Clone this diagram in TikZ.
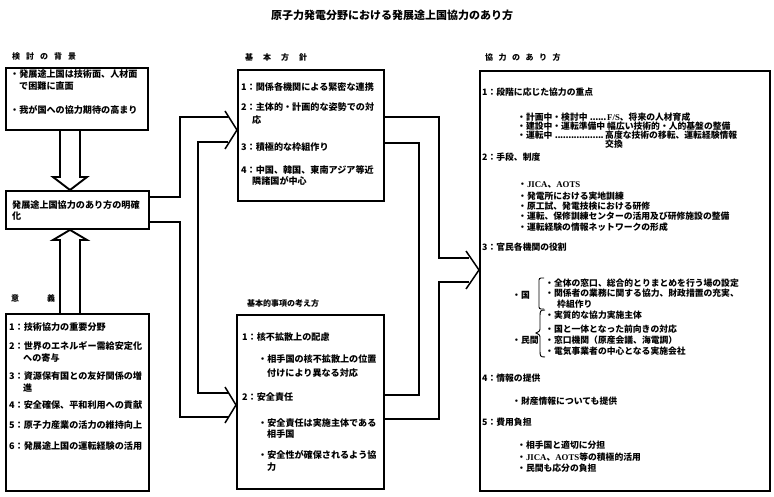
\documentclass[tikz,border=0pt]{standalone}
\usepackage{fontspec}
\setmainfont{Noto Sans CJK JP}
\newfontfamily\latinfont{Liberation Serif}
\newcommand{\jl}[1]{{\latinfont\bfseries #1}}
\newcommand{\ldr}{\leaders\hbox to 2.7pt{\hss.\hss}\hfill}
\tikzset{
  box/.style={draw, line width=1.9pt, anchor=north west, inner sep=0pt},
  pipe/.style={line width=1.9pt, line join=miter},
  chev/.style={line width=1.5pt, line join=miter},
  tx/.style={anchor=west, inner sep=0pt, font=\fontsize{9.1}{11}\selectfont\bfseries},
  tr/.style={anchor=west, inner sep=0pt, font=\fontsize{8.8}{10}\selectfont\bfseries},
  lbl/.style={anchor=west, inner sep=0pt, font=\fontsize{8}{10}\selectfont\bfseries},
  brk/.style={line width=0.9pt}
}
\begin{document}
\begin{tikzpicture}[x=1pt,y=-1pt]
\useasboundingbox (0,0) rectangle (774,497);
% title
\node[inner sep=0pt, font=\fontsize{11}{13}\selectfont\bfseries] (title) at (392,15) {原子力発電分野における発展途上国協力のあり方};
% labels
\node[lbl] (L1) at (12,56) {検\hspace{6pt}討\hspace{6pt}の\hspace{6pt}背\hspace{6pt}景};
\node[lbl] (L2) at (245,57) {基\hspace{10pt}本\hspace{10pt}方\hspace{10pt}針};
\node[lbl] (L3) at (485,57) {協\hspace{5.5pt}力\hspace{5.5pt}の\hspace{5.5pt}あ\hspace{5.5pt}り\hspace{5.5pt}方};
\node[lbl] (L4) at (11,298) {意};
\node[lbl] (L5) at (47,298) {義};
\node[lbl] (L6) at (247,303) {基本的事項の考え方};
% boxes
\node[box, minimum width=142pt, minimum height=62pt] (B1) at (5,67) {};
\node[box, minimum width=143pt, minimum height=38pt] (B2) at (5,190) {};
\node[box, minimum width=143pt, minimum height=177pt] (B3) at (5,313) {};
\node[box, minimum width=146pt, minimum height=131pt] (C1) at (237,69) {};
\node[box, minimum width=147pt, minimum height=174pt] (C2) at (236,314) {};
\node[box, minimum width=290pt, minimum height=420pt] (R) at (479,70) {};
% hollow vertical arrows
\draw[pipe] (B1.south -| 60,0) -- (60,177) -- (53,177) -- (B2.north -| 70,0) -- (87,177) -- (80,177) -- (B1.south -| 80,0);
\draw[pipe] (B3.north -| 60,0) -- (60,240) -- (53,240) -- (B2.south -| 70,0) -- (87,240) -- (80,240) -- (B3.north -| 80,0);
% left branching pipe
\draw[pipe] (B2.east |- 0,197) -- (180,197) -- (180,117) -- (228,117);
\draw[pipe] (228,142) -- (198,142) -- (198,393) -- (228,393);
\draw[pipe] (B2.east |- 0,222) -- (180,222) -- (180,417) -- (228,417);
\draw[chev] (225,111) -- (C1.west |- 0,130) -- (225,149);
\draw[chev] (225,387) -- (C2.west |- 0,405) -- (225,423);
% right merging pipe
\draw[pipe] (C1.east |- 0,117) -- (439,117) -- (439,258) -- (469,258);
\draw[pipe] (C1.east |- 0,143) -- (419,143) -- (419,395) -- (C2.east |- 0,395);
\draw[pipe] (C2.east |- 0,419) -- (439,419) -- (439,282) -- (469,282);
\draw[chev] (466,251) -- (R.west |- 0,270) -- (466,289);
% B1 text
\node[tx] (b1a) at (10,74) {・発展途上国は技術面、人材面};
\node[tx] (b1b) at (19,86) {で困難に直面};
\node[tx] (b1c) at (10,110) {・我が国への協力期待の高まり};
% B2 text
\node[tx] (b2a) at (12,205) {発展途上国協力のあり方の明確};
\node[tx] (b2b) at (12,216) {化};
% B3 text
\node[tx] (b3a) at (9,327) {1：技術協力の重要分野};
\node[tx] (b3b) at (9,346) {2：世界のエネルギー需給安定化};
\node[tx] (b3c) at (23,358) {への寄与};
\node[tx] (b3d) at (9,376) {3：資源保有国との友好関係の増};
\node[tx] (b3e) at (23,388) {進};
\node[tx] (b3f) at (9,405) {4：安全確保、平和利用への貢献};
\node[tx] (b3g) at (9,425) {5：原子力産業の活力の維持向上};
\node[tx] (b3h) at (9,446) {6：発展途上国の運転経験の活用};
% C1 text
\node[tx] (c1a) at (241,87) {1：関係各機関による緊密な連携};
\node[tx] (c1b) at (241,107) {2：主体的・計画的な姿勢での対};
\node[tx] (c1c) at (252,120) {応};
\node[tx] (c1d) at (241,147) {3：積極的な枠組作り};
\node[tx] (c1e) at (241,170) {4：中国、韓国、東南アジア等近};
\node[tx] (c1f) at (252,181) {隣諸国が中心};
% C2 text
\node[tx] (c2a) at (242,337) {1：核不拡散上の配慮};
\node[tx] (c2b) at (258,359) {・相手国の核不拡散上の位置};
\node[tx] (c2c) at (267,373) {付けにより異なる対応};
\node[tx] (c2d) at (242,397) {2：安全責任};
\node[tx] (c2e) at (258,423) {・安全責任は実施主体である};
\node[tx] (c2f) at (267,434) {相手国};
\node[tx] (c2g) at (258,455) {・安全性が確保されるよう協};
\node[tx] (c2h) at (267,467) {力};
% R text
\node[tr] (r1) at (482,92) {1：段階に応じた協力の重点};
\node[tr] (r1a) at (517,117) {\makebox[90pt][l]{・計画中・検討中\ldr}};
\node[tr] (r1b) at (607,117) {\jl{F/S}、将来の人材育成};
\node[tr] (r1c) at (517,126) {\makebox[90pt][l]{・建設中・運転準備中\ldr}};
\node[tr] (r1d) at (607,126) {幅広い技術的・人的基盤の整備};
\node[tr] (r1e) at (517,135) {\makebox[88pt][l]{・運転中\ldr}};
\node[tr] (r1f) at (605,135) {高度な技術の移転、運転経験情報};
\node[tr] (r1g) at (605,144) {交換};
\node[tr] (r2) at (482,157) {2：手段、制度};
\node[tr] (r2a) at (518,185) {・\jl{JICA}、\jl{AOTS}};
\node[tr] (r2b) at (518,196) {・発電所における実地訓練};
\node[tr] (r2c) at (518,206) {・原工試、発電技検における研修};
\node[tr] (r2d) at (518,216) {・運転、保修訓練センターの活用及び研修施設の整備};
\node[tr] (r2e) at (518,227) {・運転経験の情報ネットワークの形成};
\node[tr] (r3) at (482,247) {3：官民各機関の役割};
\node[tr] (r3k) at (512,295) {・国};
\node[tr] (r3a) at (545,283) {・全体の窓口、総合的とりまとめを行う場の設定};
\node[tr] (r3b) at (545,293) {・関係者の業務に関する協力、財政措置の充実、};
\node[tr] (r3c) at (557,304) {枠組作り};
\node[tr] (r3m) at (512,340) {・民間};
\node[tr] (r3d) at (545,315) {・実質的な協力実施主体};
\node[tr] (r3e) at (545,329) {・国と一体となった前向きの対応};
\node[tr] (r3f) at (545,340) {・窓口機関（原産会議、海電調）};
\node[tr] (r3g) at (545,351) {・電気事業者の中心となる実施会社};
\node[tr] (r4) at (482,378) {4：情報の提供};
\node[tr] (r4a) at (512,401) {・財産情報についても提供};
\node[tr] (r5) at (482,422) {5：費用負担};
\node[tr] (r5a) at (517,445) {・相手国と適切に分担};
\node[tr] (r5b) at (517,457) {・\jl{JICA}、\jl{AOTS}等の積極的活用};
\node[tr] (r5c) at (517,468) {・民間も応分の負担};
% bracket and brace
\draw[brk, rounded corners=2pt] (544,278) -- (539,278) -- (539,309) -- (544,309);
\draw[brk] (545,310) .. controls (540,310) and (540,311) .. (540,317) -- (540,327) .. controls (540,331) .. (536,333) .. controls (540,335) .. (540,339) -- (540,350) .. controls (540,356) and (540,357) .. (545,357);
\end{tikzpicture}
\end{document}
